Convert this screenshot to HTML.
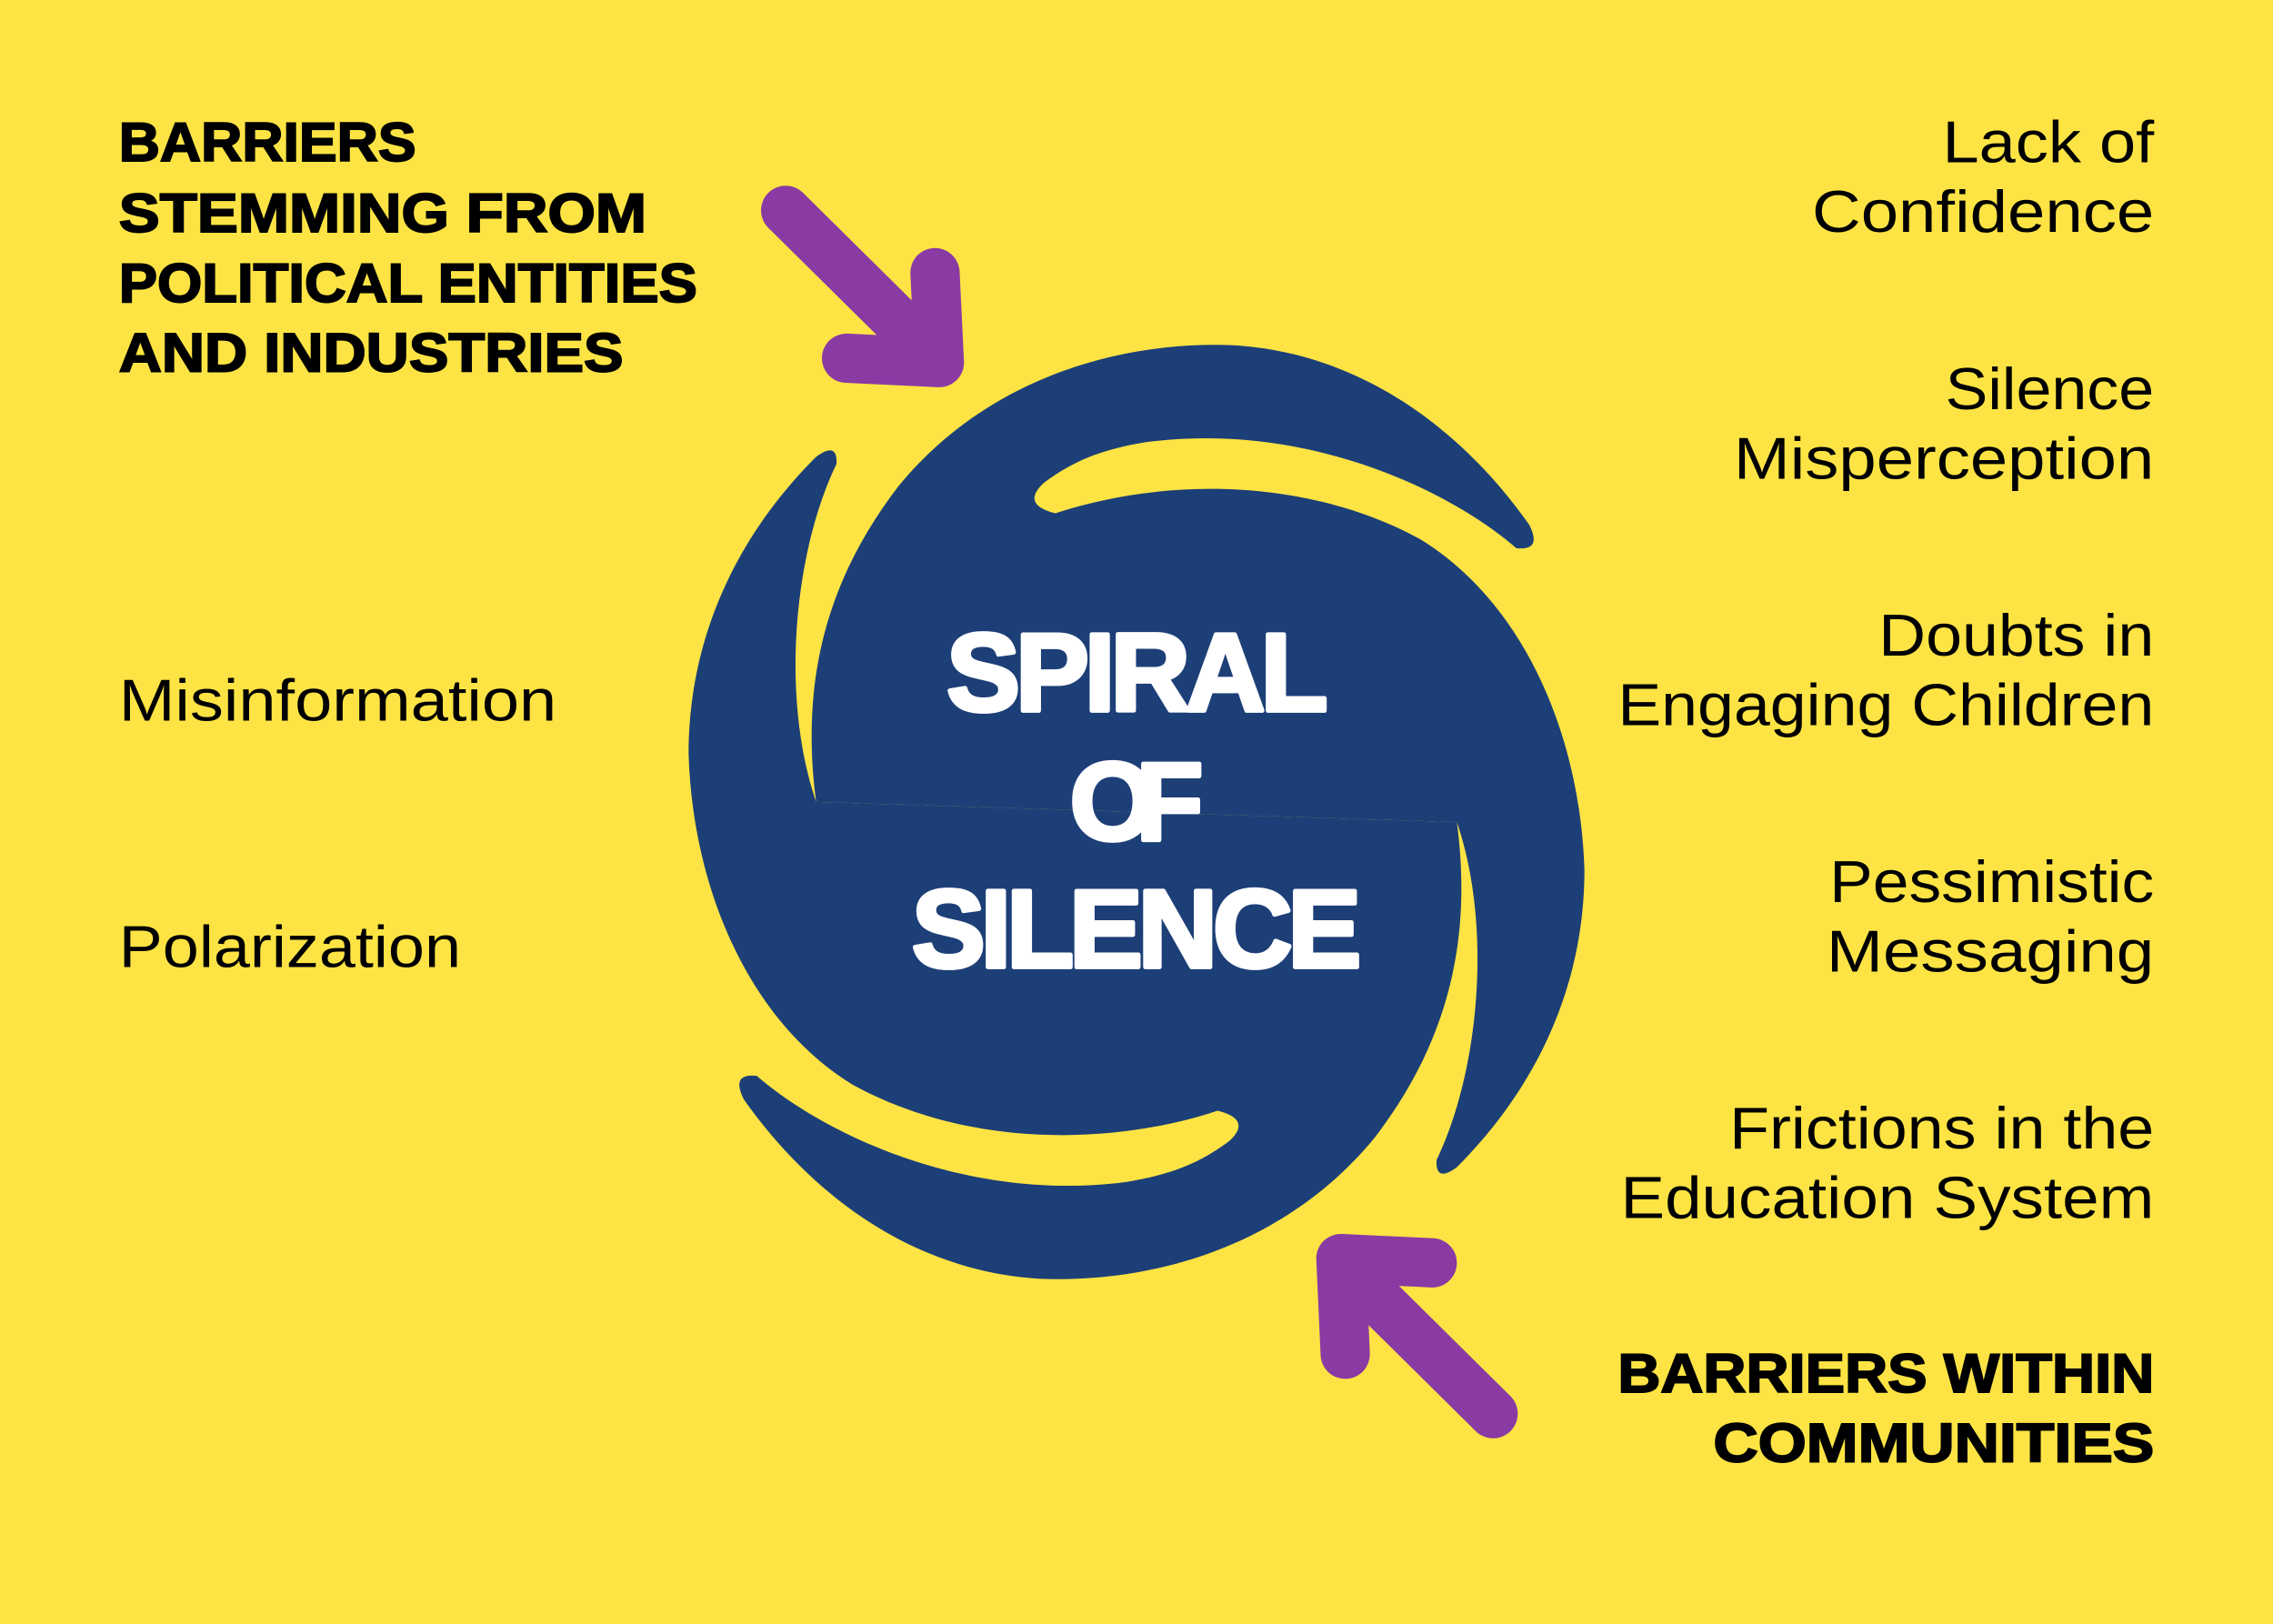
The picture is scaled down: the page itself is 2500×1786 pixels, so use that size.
<!DOCTYPE html>
<html><head><meta charset="utf-8"><style>
html,body{margin:0;padding:0;background:#FDE444;}
svg{display:block}
</style></head><body>
<svg width="2500" height="1786" viewBox="0 0 1568 1120" xmlns="http://www.w3.org/2000/svg">
<rect x="0" y="0" width="1568" height="1120" fill="#FDE444"/>
<!-- spiral -->
<g fill="#1D3F77">
  <path id="half" d="M563,553 C552,470 570,400 620,335 C680,262 770,235 850,238 C940,243 1010,298 1055,362 Q1064,380 1046,378 C1000,338 900,290 790,305 C760,310 740,318 720,333 Q704,348 728,354 C800,330 900,328 980,372 C1050,415 1090,505 1093,600 C1093,680 1060,750 1005,805 Q990,816 991,800 C1020,740 1030,640 1005,567 Z"/>
  <use href="#half" transform="rotate(180 784 560)"/>
</g>
<!-- arrows -->
<g stroke="#8A3AA3" stroke-width="34" stroke-linecap="round" stroke-linejoin="round" fill="none">
  <path d="M542,145 L632,234"/>
  <path d="M584,247 L648,250 L645,188"/>
  <path d="M1030,975 L940,886"/>
  <path d="M988,871 L925,868 L928,934"/>
</g>
<!-- center text -->
<g font-family="Liberation Sans, sans-serif" font-weight="bold" fill="#fff" stroke="#fff" stroke-width="3" stroke-linejoin="round" font-size="76">
  <text x="653" y="490" textLength="263" lengthAdjust="spacing">SPIRAL</text>
  <text x="738" y="579" textLength="92" lengthAdjust="spacing">OF</text>
  <text x="629" y="667" textLength="310" lengthAdjust="spacing">SILENCE</text>
</g>
<!-- headings -->
<g font-family="Liberation Sans, sans-serif" font-weight="bold" fill="#000" stroke="#000" stroke-width="1.2" font-size="38">
  <text x="82" y="111" textLength="205" lengthAdjust="spacingAndGlyphs">BARRIERS</text>
  <text x="82" y="160" textLength="364" lengthAdjust="spacingAndGlyphs">STEMMING FROM</text>
  <text x="82" y="208" textLength="399" lengthAdjust="spacingAndGlyphs">POLITICAL ENTITIES</text>
  <text x="82" y="256" textLength="348" lengthAdjust="spacingAndGlyphs">AND INDUSTRIES</text>
  <text x="1116" y="960" textLength="370" lengthAdjust="spacingAndGlyphs">BARRIERS WITHIN</text>
  <text x="1182" y="1008" textLength="304" lengthAdjust="spacingAndGlyphs">COMMUNITIES</text>
</g>
<!-- regular labels -->
<g font-family="Liberation Sans, sans-serif" fill="#000" font-size="41">
  <text x="82" y="497" textLength="302" lengthAdjust="spacingAndGlyphs">Misinformation</text>
  <text x="82" y="667" textLength="236" lengthAdjust="spacingAndGlyphs">Polarization</text>
  <text x="1340" y="112" textLength="146" lengthAdjust="spacingAndGlyphs">Lack of</text>
  <text x="1250" y="160" textLength="236" lengthAdjust="spacingAndGlyphs">Confidence</text>
  <text x="1342" y="282" textLength="144" lengthAdjust="spacingAndGlyphs">Silence</text>
  <text x="1196" y="330" textLength="290" lengthAdjust="spacingAndGlyphs">Misperception</text>
  <text x="1296" y="452" textLength="190" lengthAdjust="spacingAndGlyphs">Doubts in</text>
  <text x="1116" y="500" textLength="370" lengthAdjust="spacingAndGlyphs">Engaging Children</text>
  <text x="1262" y="622" textLength="224" lengthAdjust="spacingAndGlyphs">Pessimistic</text>
  <text x="1260" y="670" textLength="226" lengthAdjust="spacingAndGlyphs">Messaging</text>
  <text x="1193" y="792" textLength="293" lengthAdjust="spacingAndGlyphs">Frictions in the</text>
  <text x="1118" y="840" textLength="368" lengthAdjust="spacingAndGlyphs">Education System</text>
</g>
</svg>
</body></html>
